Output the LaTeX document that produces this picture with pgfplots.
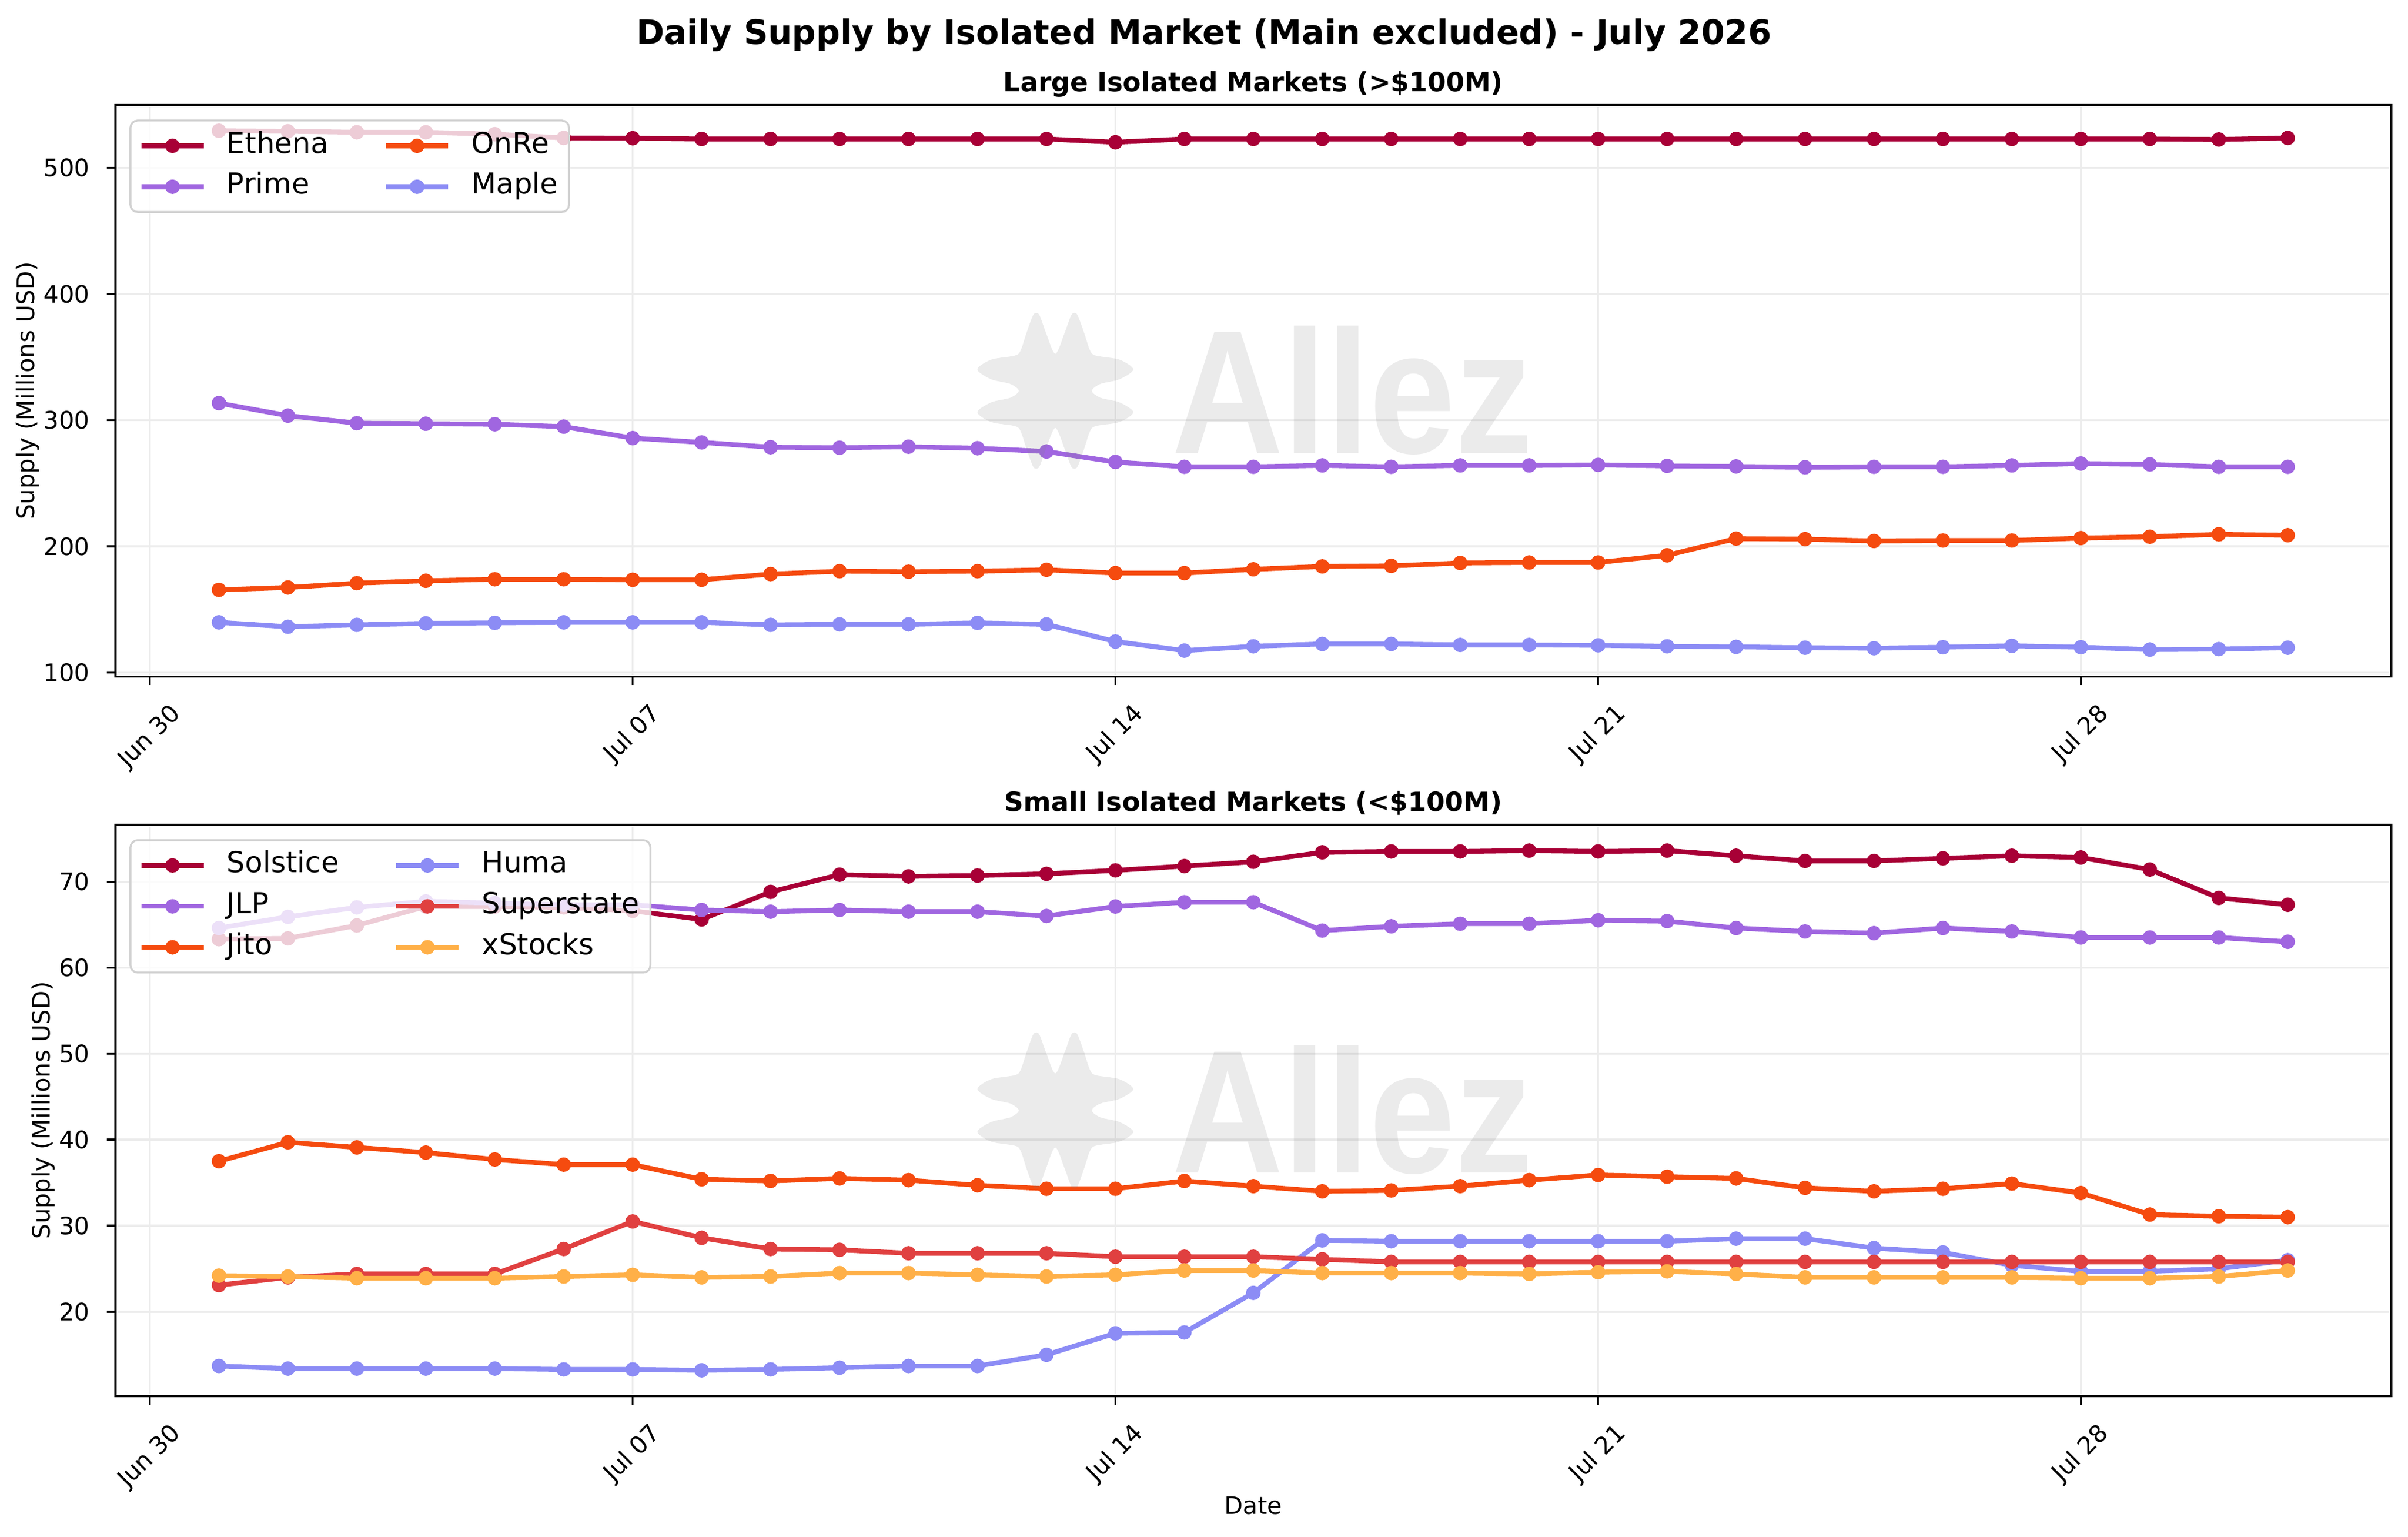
\documentclass[border=0pt]{standalone}
\usepackage{fontspec}
\setmainfont{DejaVu Sans}
\newfontfamily\wmfont{Liberation Sans}
\usepackage{graphicx}
\usepackage{pgfplots}
\usepackage{pgfplotstable}
\pgfplotsset{compat=1.18}

\definecolor{cEth}{HTML}{A80036}
\definecolor{cPri}{HTML}{A066E0}
\definecolor{cOnr}{HTML}{F54B0F}
\definecolor{cMap}{HTML}{8C8CF5}
\definecolor{cSup}{HTML}{E04040}
\definecolor{cXst}{HTML}{FFB048}

\pgfplotstableread{
day ethena prime onre maple
1 529.2 313.5 165.6 139.9
2 528.8 303.6 167.5 136.4
3 528.0 297.6 170.9 137.9
4 528.0 297.2 172.8 139.1
5 526.5 296.8 174.0 139.5
6 523.5 294.9 174.0 139.9
7 523.3 285.8 173.6 139.9
8 522.7 282.4 173.6 139.9
9 522.7 278.6 178.1 137.9
10 522.7 278.2 180.4 138.3
11 522.7 279.0 180.0 138.3
12 522.7 277.8 180.4 139.5
13 522.7 275.2 181.5 138.3
14 520.1 266.9 178.9 124.7
15 522.7 263.1 178.9 117.5
16 522.7 263.1 181.9 120.9
17 522.7 264.2 184.2 122.8
18 522.7 263.1 184.6 122.8
19 522.7 264.2 186.9 122.0
20 522.7 264.2 187.3 122.0
21 522.7 264.6 187.3 121.7
22 522.7 263.8 193.0 120.9
23 522.7 263.4 206.2 120.5
24 522.7 262.7 205.8 119.8
25 522.7 263.1 204.3 119.4
26 522.7 263.1 204.7 120.2
27 522.7 264.2 204.7 121.3
28 522.7 265.7 206.6 120.2
29 522.7 265.0 207.7 118.3
30 522.3 263.1 209.6 118.7
31 523.5 263.1 208.9 119.8
}\toptable

\pgfplotstableread{
day solstice jlp jito huma superstate xstocks
1 63.3 64.6 37.5 13.7 23.1 24.2
2 63.4 65.9 39.7 13.4 24.0 24.1
3 64.9 67.0 39.1 13.4 24.4 23.9
4 67.1 67.7 38.5 13.4 24.4 23.9
5 67.1 67.5 37.7 13.4 24.4 23.9
6 67.0 67.3 37.1 13.3 27.3 24.1
7 66.6 67.3 37.1 13.3 30.5 24.3
8 65.6 66.7 35.4 13.2 28.6 24.0
9 68.8 66.5 35.2 13.3 27.3 24.1
10 70.8 66.7 35.5 13.5 27.2 24.5
11 70.6 66.5 35.3 13.7 26.8 24.5
12 70.7 66.5 34.7 13.7 26.8 24.3
13 70.9 66.0 34.3 15.0 26.8 24.1
14 71.3 67.1 34.3 17.5 26.4 24.3
15 71.8 67.6 35.2 17.6 26.4 24.8
16 72.3 67.6 34.6 22.2 26.4 24.8
17 73.4 64.3 34.0 28.3 26.1 24.5
18 73.5 64.8 34.1 28.2 25.8 24.5
19 73.5 65.1 34.6 28.2 25.8 24.5
20 73.6 65.1 35.3 28.2 25.8 24.4
21 73.5 65.5 35.9 28.2 25.8 24.6
22 73.6 65.4 35.7 28.2 25.8 24.7
23 73.0 64.6 35.5 28.5 25.8 24.4
24 72.4 64.2 34.4 28.5 25.8 24.0
25 72.4 64.0 34.0 27.4 25.8 24.0
26 72.7 64.6 34.3 26.9 25.8 24.0
27 73.0 64.2 34.9 25.4 25.8 24.0
28 72.8 63.5 33.8 24.7 25.8 23.9
29 71.4 63.5 31.3 24.7 25.8 23.9
30 68.1 63.5 31.1 25.0 25.8 24.1
31 67.3 63.0 31.0 26.0 25.8 24.8
}\bottable

\pgfplotsset{
  myaxis/.style={
    scale only axis, width=945.8pt, height=237.4pt,
    xmin=-0.5, xmax=32.5,
    xtick={0,7,14,21,28},
    xticklabels={{\rotatebox{45}{Jun 30}},{\rotatebox{45}{Jul 07}},{\rotatebox{45}{Jul 14}},{\rotatebox{45}{Jul 21}},{\rotatebox{45}{Jul 28}}},
    tick align=outside, major tick length=3.5pt,
    tick style={black, line width=0.8pt},
    xtick pos=left, ytick pos=left,
    grid=major, major grid style={gray!15, line width=0.8pt},
    axis line style={line width=0.8pt},
    ticklabel style={font=\fontsize{10}{12}\selectfont},
    /pgf/number format/assume math mode=true,
    xticklabel style={anchor=north, inner sep=0pt, yshift=-7pt},
    yticklabel style={anchor=east, inner sep=0pt, xshift=-7pt},
    every axis title shift=0pt,
    title style={at={(0.5,1)}, anchor=base, yshift=5.6pt, font=\bfseries\fontsize{11}{13}\selectfont},
    label style={font=\fontsize{10}{12}\selectfont},
    legend cell align=left,
    legend columns=2,
    legend image code/.code={\draw[mark repeat=2, mark phase=2, line cap=rect, #1] plot coordinates {(0pt,0pt) (12pt,0pt) (24pt,0pt)};},
    legend style={
      at={(0.00613,0.9747)}, anchor=north west,
      font=\fontsize{12}{14.4}\selectfont,
      fill=white, fill opacity=0.8, draw opacity=1, text opacity=1,
      draw=black!18, line width=0.8pt, rounded corners=3pt,
      inner xsep=4.5pt, inner ysep=2pt,
      nodes={inner xsep=0pt, inner ysep=2.5pt, text height=9pt, text depth=3pt, anchor=west},
      /tikz/every odd column/.append style={column sep=9.6pt},
      /tikz/every even column/.append style={column sep=23.8pt},
    },
  },
  ser/.style={color=#1, line width=2pt, mark=*, mark size=2pt, mark options={solid, fill=#1}},
}

\begin{document}
\begin{tikzpicture}
\useasboundingbox (0,0) rectangle (1000.8pt,-638.64pt);

\node[anchor=base, font=\bfseries\fontsize{14}{17}\selectfont] at (500.4pt,-18.3pt) {Daily Supply by Isolated Market (Main excluded) - July 2026};

\begin{axis}[myaxis,
  at={(48pt,-43.7pt)}, anchor=north west,
  ymin=97, ymax=549.5, ytick={100,200,300,400,500},
  title={Large Isolated Markets (>\$100M)},
  ylabel={Supply (Millions USD)},
  every axis y label/.style={at={(axis description cs:-0.0386,0.5)}, rotate=90, anchor=center},
]
\addlegendimage{ser=cEth}\addlegendentry{Ethena}
\addlegendimage{ser=cOnr}\addlegendentry{OnRe}
\addlegendimage{ser=cPri}\addlegendentry{Prime}
\addlegendimage{ser=cMap}\addlegendentry{Maple}
\addplot[ser=cEth, forget plot] table[x=day, y=ethena] {\toptable};
\addplot[ser=cPri, forget plot] table[x=day, y=prime] {\toptable};
\addplot[ser=cOnr, forget plot] table[x=day, y=onre] {\toptable};
\addplot[ser=cMap, forget plot] table[x=day, y=maple] {\toptable};
\end{axis}

\begin{axis}[myaxis,
  at={(48pt,-342.7pt)}, anchor=north west,
  ymin=10.2, ymax=76.6, ytick={20,30,40,50,60,70},
  title={Small Isolated Markets (<\$100M)},
  ylabel={Supply (Millions USD)},
  xlabel={Date},
  every axis y label/.style={at={(axis description cs:-0.0317,0.5)}, rotate=90, anchor=center},
  every axis x label/.style={at={(axis description cs:0.5,0)}, anchor=base, yshift=-49pt},
]
\addlegendimage{ser=cEth}\addlegendentry{Solstice}
\addlegendimage{ser=cMap}\addlegendentry{Huma}
\addlegendimage{ser=cPri}\addlegendentry{JLP}
\addlegendimage{ser=cSup}\addlegendentry{Superstate}
\addlegendimage{ser=cOnr}\addlegendentry{Jito}
\addlegendimage{ser=cXst}\addlegendentry{xStocks}
\addplot[ser=cEth, forget plot] table[x=day, y=solstice] {\bottable};
\addplot[ser=cPri, forget plot] table[x=day, y=jlp] {\bottable};
\addplot[ser=cOnr, forget plot] table[x=day, y=jito] {\bottable};
\addplot[ser=cMap, forget plot] table[x=day, y=huma] {\bottable};
\addplot[ser=cSup, forget plot] table[x=day, y=superstate] {\bottable};
\addplot[ser=cXst, forget plot] table[x=day, y=xstocks] {\bottable};
\end{axis}

% watermarks
\foreach \cy in {-162.4, -461.4} {
  \begin{scope}[shift={(438.6pt,\cy pt)}, x=0.24pt, y=0.24pt]
    \fill[gray, fill opacity=0.16] plot[smooth cycle, tension=0.5] coordinates {
      (0,64) (16,100) (27,130) (33,135) (39,130) (50,100) (60,70) (70,61) (111,54) (135,37) (111,20) (78,12) (63,0) (78,-12) (111,-20) (135,-37) (111,-54) (70,-61) (60,-70) (50,-100) (39,-130) (33,-135) (27,-130) (16,-100) (0,-64)
      (-16,-100) (-27,-130) (-33,-135) (-39,-130) (-50,-100) (-60,-70) (-70,-61) (-111,-54) (-135,-37) (-111,-20) (-78,-12) (-63,0) (-78,12) (-111,20) (-135,37) (-111,54) (-70,61) (-60,70) (-50,100) (-39,130) (-33,135) (-27,130) (-16,100)};
  \end{scope}
  \node[anchor=base, xscale=0.88, text=gray, text opacity=0.16, font=\wmfont\bfseries\fontsize{73}{80}\selectfont, inner sep=0pt] at (562.1pt,\cy pt-26pt) {Allez};
}
\end{tikzpicture}
\end{document}
